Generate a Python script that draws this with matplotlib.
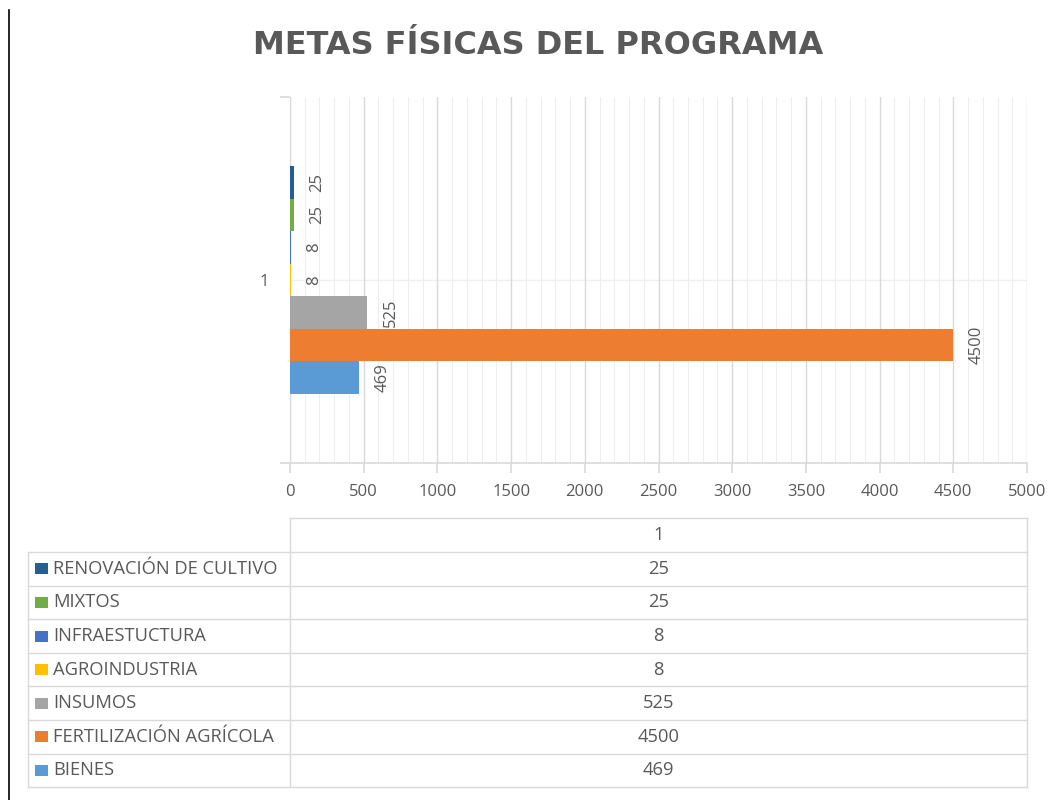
import matplotlib
matplotlib.use("Agg")
import matplotlib.pyplot as plt
from matplotlib.lines import Line2D
from matplotlib.patches import Rectangle

# ---- data ----
series_names = ["BIENES", "FERTILIZACIÓN AGRÍCOLA", "INSUMOS", "AGROINDUSTRIA",
                "INFRAESTUCTURA", "MIXTOS", "RENOVACIÓN DE CULTIVO"]
series_values = [469, 4500, 525, 8, 8, 25, 25]
series_colors = ["#5B9BD5", "#ED7D31", "#A5A5A5", "#FFC000",
                 "#4472C4", "#70AD47", "#255E91"]
category_labels = ["1"]
x_ticks = [0, 500, 1000, 1500, 2000, 2500, 3000, 3500, 4000, 4500, 5000]
title = "METAS FÍSICAS DEL PROGRAMA"

W, H = 1056, 800
fig = plt.figure(figsize=(W / 100, H / 100), dpi=100)
fig.patch.set_facecolor("white")

def fx(px):
    return px / W

def fy(py):
    return 1 - py / H

TXT = "#595959"
GRID = "#D9D9D9"
FONT = "Open Sans"

# ---- main chart ----
L, R, T, B = 290, 1027, 97, 463
ax = fig.add_axes([fx(L), fy(B), fx(R) - fx(L), fy(T) - fy(B)])
n = len(series_values)
bh = 0.0889
for i, (name, v, c) in enumerate(zip(series_names, series_values, series_colors)):
    y = (i - (n - 1) / 2) * bh
    ax.barh(y, v, height=bh, color=c, edgecolor="none", zorder=3)
    ax.annotate(str(v), xy=(v, y), xytext=(11, 0), textcoords="offset points",
                rotation=90, ha="left", va="center", color=TXT,
                fontsize=12, family=FONT, zorder=4)

ax.set_xlim(0, 5000)
ax.set_ylim(-0.5, 0.5)
ax.set_xticks(x_ticks)
ax.set_xticklabels([str(t) for t in x_ticks], family=FONT, fontsize=12, color=TXT)
ax.set_xticks(range(0, 5001, 100), minor=True)
ax.set_yticks([0])
ax.set_yticks([-0.5, 0.5], minor=True)
ax.set_yticklabels(category_labels, family=FONT, fontsize=12, color=TXT)
ax.tick_params(axis="y", which="major", length=0, pad=15)
ax.tick_params(axis="y", which="minor", length=7, color=GRID, width=1.2)
ax.tick_params(axis="x", which="major", length=7, color=GRID, width=1.2,
               pad=8, direction="out")
ax.tick_params(axis="x", which="minor", length=0)
ax.grid(axis="x", which="major", color=GRID, linewidth=1, zorder=0)
ax.grid(axis="x", which="minor", color="#EEEEEE", linewidth=0.8, zorder=0)
ax.axhline(0, color="#F0F0F0", linewidth=1, zorder=0)
for s in ["top", "right"]:
    ax.spines[s].set_visible(False)
ax.spines["left"].set_color(GRID)
ax.spines["bottom"].set_color(GRID)
ax.spines["bottom"].set_linewidth(1.2)
ax.set_facecolor("none")

# ---- title ----
fig.text(fx(538), fy(45), title, ha="center", va="center", fontsize=23,
         fontweight="bold", color=TXT, family="DejaVu Sans")

# ---- data table ----
tax = fig.add_axes([0, 0, 1, 1])
tax.set_xlim(0, W)
tax.set_ylim(H, 0)
tax.axis("off")
tax.patch.set_alpha(0)

row_top = 552
row_h = 33.6
left_x = 28
bc = "#D9D9D9"
TFS = 13.2
# header row
tax.add_line(Line2D([L, R], [518, 518], color=bc, lw=1))
tax.add_line(Line2D([L, L], [518, row_top], color=bc, lw=1))
tax.add_line(Line2D([R, R], [518, row_top], color=bc, lw=1))
tax.text((L + R) / 2, (518 + row_top) / 2, category_labels[0], ha="center",
         va="center", fontsize=TFS, color=TXT, family=FONT)
order = list(range(n))[::-1]
for k, i in enumerate(order):
    y0 = row_top + k * row_h
    y1 = y0 + row_h
    tax.add_line(Line2D([left_x, R], [y0, y0], color=bc, lw=1))
    ym = (y0 + y1) / 2
    tax.add_patch(Rectangle((35, ym - 5.5), 13, 11, color=series_colors[i], lw=0))
    tax.text(53, ym, series_names[i], ha="left", va="center", fontsize=TFS,
             color=TXT, family=FONT)
    tax.text((L + R) / 2, ym, str(series_values[i]), ha="center", va="center",
             fontsize=TFS, color=TXT, family=FONT)
y_end = row_top + n * row_h
tax.add_line(Line2D([left_x, R], [y_end, y_end], color=bc, lw=1))
for xv in [left_x, L, R]:
    tax.add_line(Line2D([xv, xv], [row_top, y_end], color=bc, lw=1))

# page border artefact on the left
tax.add_line(Line2D([9, 9], [10, 800], color="black", lw=1.2))

fig.savefig("out.png", dpi=100)
